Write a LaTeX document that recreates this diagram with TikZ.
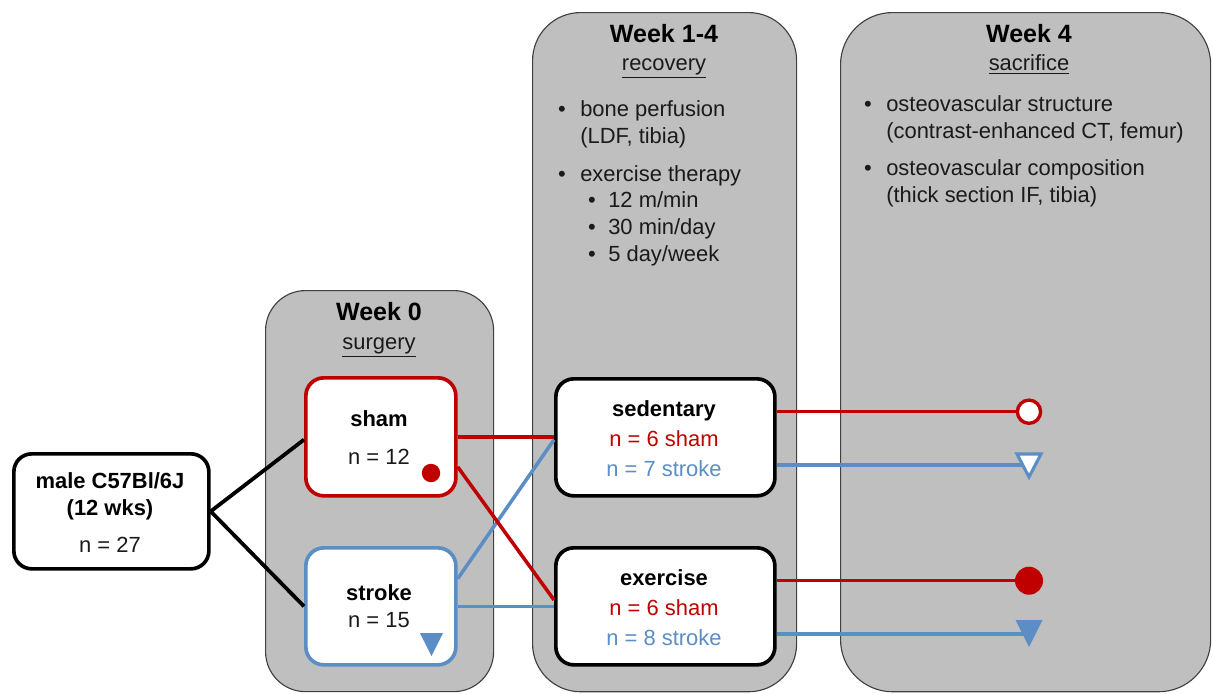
\documentclass[tikz,border=0pt]{standalone}
\usepackage{fontspec}
\setmainfont{Liberation Sans}
\usetikzlibrary{calc}
\definecolor{myred}{HTML}{C00000}
\definecolor{myblue}{HTML}{5B8EC4}
\definecolor{panelgray}{HTML}{BFBFBF}
\definecolor{paneledge}{HTML}{404040}
\definecolor{txt}{HTML}{1A1A1A}
\begin{document}
\begin{tikzpicture}[x=0.025cm,y=-0.025cm,
  every node/.style={font=\fontsize{15.6}{18}\selectfont, text=txt, inner sep=0pt, anchor=mid},
  panel/.style={draw=paneledge, line width=0.8pt, fill=panelgray, anchor=north west},
  box/.style={draw, line width=2.6pt, fill=white, rounded corners=0.45cm, anchor=north west},
  title/.style={font=\fontsize{17.8}{20}\selectfont\bfseries, text=black},
  bold/.style={font=\fontsize{15.6}{18}\selectfont\bfseries, text=black},
  lbl/.style={anchor=mid west},
  redtxt/.style={text=myred},
  bluetxt/.style={text=myblue},
  redline/.style={draw=myred, line width=2.5pt},
  blueline/.style={draw=myblue, line width=2.5pt},
  blackline/.style={draw=black, line width=2.7pt},
]
\useasboundingbox (0,0) rectangle (1213,693);

% panels
\node[panel, rounded corners=1.3cm, minimum width=9.25cm, minimum height=16.975cm] (p4) at (840,12) {};
\node[panel, rounded corners=1.2cm, minimum width=6.6cm, minimum height=16.975cm] (p14) at (532,12) {};
\node[panel, rounded corners=1.0cm, minimum width=5.7cm, minimum height=10.025cm] (p0) at (265,290) {};

% panel texts
\node[title] (t14) at (664,39) {Week 1-4};
\node (s14) at (664,67) {\underline{recovery}};
\node[title] (t4) at (1029,39) {Week 4};
\node (s4) at (1029,67) {\underline{sacrifice}};
\node[title] (t0) at (379,317) {Week 0};
\node (s0) at (379,346) {\underline{surgery}};

\node (b1) at (562,113) {•};
\node[lbl] (l1) at (580,113) {bone perfusion};
\node[lbl] (l2) at (580,140) {(LDF, tibia)};
\node (b2) at (562,178) {•};
\node[lbl] (l3) at (580,178) {exercise therapy};
\node (b3) at (592,204) {•};
\node[lbl] (l4) at (608,204) {12 m/min};
\node (b4) at (592,231) {•};
\node[lbl] (l5) at (608,231) {30 min/day};
\node (b5) at (592,258) {•};
\node[lbl] (l6) at (608,258) {5 day/week};

\node (b6) at (868,108) {•};
\node[lbl] (l7) at (886,108) {osteovascular structure};
\node[lbl] (l8) at (886,135) {(contrast-enhanced CT, femur)};
\node (b7) at (868,172) {•};
\node[lbl] (l9) at (886,172) {osteovascular composition};
\node[lbl] (l10) at (886,199) {(thick section IF, tibia)};

% boxes
\node[box, minimum width=4.875cm, minimum height=2.875cm] (male) at (12,452) {};
\node[box, draw=myred, minimum width=3.75cm, minimum height=2.95cm] (sham) at (304,376) {};
\node[box, draw=myblue, minimum width=3.75cm, minimum height=2.925cm] (stroke) at (304,546) {};
\node[box, minimum width=5.475cm, minimum height=2.925cm] (sed) at (554,377) {};
\node[box, minimum width=5.475cm, minimum height=2.925cm] (exe) at (554,546) {};

% box texts
\node[bold] (m1t) at (110,485) {male C57Bl/6J};
\node[bold] (m2t) at (110,512) {(12 wks)};
\node (m3t) at (110,549) {n = 27};
\node[bold] (sh1) at (379,423) {sham};
\node (sh2) at (379,461) {n = 12};
\node[bold] (st1) at (379,597) {stroke};
\node (st2) at (379,624) {n = 15};
\node[bold] (se1) at (664,413) {sedentary};
\node[redtxt] (se2) at (664,443) {n = 6 sham};
\node[bluetxt] (se3) at (664,473) {n = 7 stroke};
\node[bold] (ex1) at (664,582) {exercise};
\node[redtxt] (ex2) at (664,612) {n = 6 sham};
\node[bluetxt] (ex3) at (664,642) {n = 8 stroke};

% markers in boxes
\fill[myred] (431,473) circle [radius=0.23cm];
\fill[myblue] (420,633) -- (443,633) -- (431.5,656) -- cycle;

% connectors left
\draw[blackline] (male.east) -- ([yshift=-0.07cm]sham.west);
\draw[blackline] (male.east) -- (stroke.west);
\draw[blueline] ([yshift=0.69cm]stroke.east) -- ([yshift=-0.06cm]sed.west);
\draw[blueline] (stroke.east) -- (stroke.east -| exe.west);
\draw[redline] (sham.east) -- (sham.east -| sed.west);
\draw[redline] ([yshift=-0.75cm]sham.east) -- ([yshift=0.16cm]exe.west);

% end markers
\coordinate (c2) at (1029,465);
\coordinate (c4) at (1029,634);
\node[circle, draw=myred, line width=2.4pt, fill=white, minimum size=0.58cm] (m1) at (1029,408) {};
\node[circle, fill=myred, minimum size=0.7cm] (m3) at (1029,577) {};
\draw[redline] (m1 -| sed.east) -- (m1);
\draw[redline] (m3 -| exe.east) -- (m3);
\draw[blueline] (c2 -| sed.east) -- (c2);
\draw[blueline] (c4 -| exe.east) -- (c4);
\draw[draw=myblue, line width=2.2pt, fill=white] ($(c2)+(-12,-11)$) -- ($(c2)+(12,-11)$) -- ($(c2)+(0,12)$) -- cycle;
\fill[myblue] ($(c4)+(-13.5,-14)$) -- ($(c4)+(13.5,-14)$) -- ($(c4)+(0,13)$) -- cycle;
\end{tikzpicture}
\end{document}
